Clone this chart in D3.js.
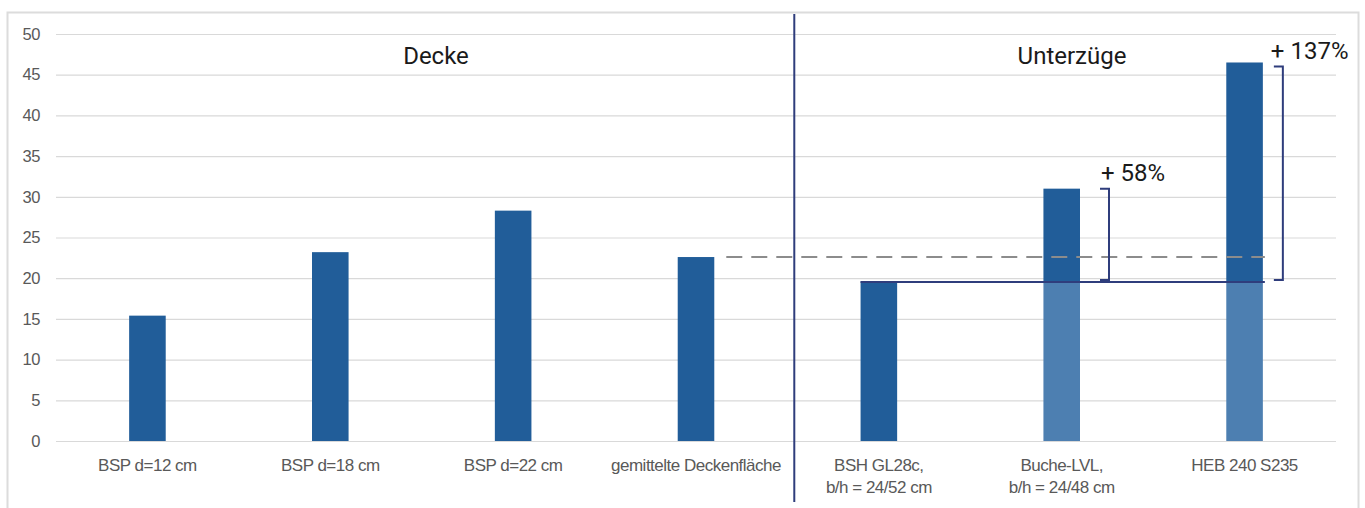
<!DOCTYPE html>
<html>
<head>
<meta charset="utf-8">
<script src="https://cdn.jsdelivr.net/npm/d3@7"></script>
<style>
  html, body { margin: 0; padding: 0; background: #fff; }
  svg { display: block; }
</style>
</head>
<body>
<svg id="chart" width="1365" height="508"></svg>
<script>
// Categories (multi-line labels split on "|")
const categories = [
  "BSP d=12 cm",
  "BSP d=18 cm",
  "BSP d=22 cm",
  "gemittelte Deckenfläche",
  "BSH GL28c,|b/h = 24/52 cm",
  "Buche-LVL,|b/h = 24/48 cm",
  "HEB 240 S235"
];
const values = [15.4, 23.2, 28.3, 22.6, 19.6, 31.0, 46.5];
const yTicks = [0, 5, 10, 15, 20, 25, 30, 35, 40, 45, 50];
const sectionLabels = ["Decke", "Unterzüge"];
const increaseLabels = ["+ 58%", "+ 137%"];

// Reference levels: mean ceiling value (dashed) and BSH beam value (solid)
const meanDecke = values[3];
const baseBeam = values[4];

const svg = d3.select("#chart");
const margin = { left: 56, right: 29 };
const W = 1365;
const navy = "#2f3d7c";
const labelFont = "Liberation Sans, Arial, sans-serif";
const titleFont = "Roboto, sans-serif";

// frame
svg.append("rect")
  .attr("x", 7.5).attr("y", 12.5)
  .attr("width", 1351).attr("height", 520)
  .attr("fill", "none").attr("stroke", "#dcdcdc").attr("stroke-width", 2);

const x = d3.scaleBand()
  .domain(categories)
  .range([margin.left, W - margin.right])
  .paddingInner(0.8).paddingOuter(0.4);

const y = d3.scaleLinear().domain([0, 50]).range([441, 34]);

// gridlines
svg.append("g")
  .selectAll("line")
  .data(yTicks)
  .join("line")
  .attr("x1", margin.left).attr("x2", W - margin.right)
  .attr("y1", d => y(d) + 0.5).attr("y2", d => y(d) + 0.5)
  .attr("stroke", "#d9d9d9").attr("stroke-width", 1.2);

// y axis labels
const yAxis = d3.axisLeft(y).tickValues(yTicks).tickSize(0).tickPadding(0);
const ya = svg.append("g").attr("transform", "translate(40,0)").call(yAxis);
ya.select(".domain").remove();
ya.selectAll("text")
  .attr("font-family", labelFont)
  .attr("font-size", 16.5)
  .attr("letter-spacing", -0.4)
  .attr("fill", "#595959");

// bars
const dark = "#215d99";
const light = "#4d7fb1";
const bars = svg.append("g");
categories.forEach((c, i) => {
  const v = values[i];
  if (i >= 5) {
    // lower part (up to the BSH level) drawn lighter
    bars.append("rect")
      .attr("x", x(c)).attr("width", x.bandwidth())
      .attr("y", y(baseBeam)).attr("height", y(0) - y(baseBeam))
      .attr("fill", light);
    bars.append("rect")
      .attr("x", x(c)).attr("width", x.bandwidth())
      .attr("y", y(v)).attr("height", y(baseBeam) - y(v))
      .attr("fill", dark);
  } else {
    bars.append("rect")
      .attr("x", x(c)).attr("width", x.bandwidth())
      .attr("y", y(v)).attr("height", y(0) - y(v))
      .attr("fill", dark);
  }
});

// x category labels
const xl = svg.append("g")
  .attr("font-family", labelFont)
  .attr("font-size", 17)
  .attr("fill", "#595959")
  .attr("letter-spacing", -0.5)
  .attr("text-anchor", "middle");
categories.forEach(c => {
  const lines = c.split("|");
  const cx = x(c) + x.bandwidth() / 2;
  const t = xl.append("text").attr("x", cx).attr("y", 471);
  lines.forEach((ln, k) => {
    t.append("tspan").attr("x", cx).attr("dy", k === 0 ? 0 : 22).text(ln);
  });
});

// section separator
const sepX = x(categories[3]) + x.bandwidth() + 80;
svg.append("line")
  .attr("x1", sepX).attr("x2", sepX).attr("y1", 14).attr("y2", 502)
  .attr("stroke", navy).attr("stroke-width", 2);

// section titles
svg.append("g")
  .attr("font-family", titleFont).attr("font-size", 24).attr("fill", "#1a1a1a")
  .attr("text-anchor", "middle")
  .selectAll("text")
  .data(sectionLabels)
  .join("text")
  .attr("x", (d, i) => i === 0 ? 436 : 1072)
  .attr("y", 64)
  .text(d => d);

// dashed mean line
const lineEnd = x(categories[6]) + x.bandwidth() + 2;
svg.append("line")
  .attr("x1", x(categories[3]) + x.bandwidth() + 12).attr("x2", lineEnd)
  .attr("y1", y(meanDecke)).attr("y2", y(meanDecke))
  .attr("stroke", "#8c8c8c").attr("stroke-width", 2).attr("stroke-dasharray", "16,9");

// solid BSH reference line
svg.append("line")
  .attr("x1", x(categories[4])).attr("x2", lineEnd)
  .attr("y1", y(baseBeam) + 0.5).attr("y2", y(baseBeam) + 0.5)
  .attr("stroke", navy).attr("stroke-width", 2);

// brackets for increases
const brackets = [
  { top: values[5], bx: x(categories[5]) + x.bandwidth() + 29, dTop: 0 },
  { top: values[6], bx: x(categories[6]) + x.bandwidth() + 20, dTop: 4 }
];
brackets.forEach(b => {
  svg.append("path")
    .attr("d", `M${b.bx - 9},${y(b.top) + b.dTop}H${b.bx}V${y(baseBeam) - 1.5}H${b.bx - 9}`)
    .attr("fill", "none").attr("stroke", navy).attr("stroke-width", 2);
});
svg.append("text")
  .attr("x", brackets[0].bx - 8).attr("y", y(values[5]) - 8)
  .attr("font-family", titleFont).attr("font-size", 24).attr("fill", "#1a1a1a")
  .text(increaseLabels[0]);
svg.append("text")
  .attr("x", brackets[1].bx - 12).attr("y", y(values[6]) - 3)
  .attr("font-family", titleFont).attr("font-size", 24).attr("fill", "#1a1a1a")
  .text(increaseLabels[1]);
</script>
</body>
</html>
